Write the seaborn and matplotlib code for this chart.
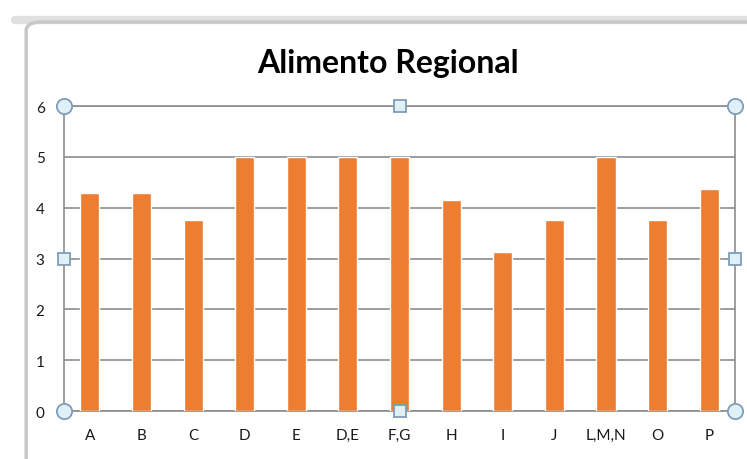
import matplotlib
matplotlib.use("Agg")
import matplotlib.pyplot as plt
import pandas as pd
import seaborn as sns
from matplotlib.patches import FancyBboxPatch

categories = ["A", "B", "C", "D", "E", "D,E", "F,G", "H", "I", "J", "L,M,N", "O", "P"]
values = [4.28, 4.28, 3.75, 5, 5, 5, 5, 4.15, 3.13, 3.75, 5, 3.75, 4.37]
yticks = [0, 1, 2, 3, 4, 5, 6]
title = "Alimento Regional"

df = pd.DataFrame({"cat": categories, "val": values})

sns.set_theme(style="white")
plt.rcParams["font.family"] = ["Lato", "DejaVu Sans"]

fig = plt.figure(figsize=(7.47, 4.60), dpi=100)
fig.patch.set_facecolor("white")

# spreadsheet-like chart frame
frame = FancyBboxPatch((0.035, -0.05), 1.0, 1.0, boxstyle="round,pad=0,rounding_size=0.02",
                       transform=fig.transFigure, facecolor="none", edgecolor="#c8c8c8",
                       linewidth=2.5, zorder=0)
fig.patches.append(frame)
fig.add_artist(plt.Line2D([0.02, 1.0], [0.955, 0.955], color="#e0e0e0", lw=6,
                          transform=fig.transFigure, zorder=-1))

ax = fig.add_axes([0.0857, 0.1043, 0.8983, 0.663])
sns.barplot(data=df, x="cat", y="val", color="#ED7D31", saturation=1, width=0.37,
            ax=ax, zorder=3)

ax.set_ylim(0, 6)
ax.set_yticks(yticks)
ax.set_xlim(-0.5, len(categories) - 0.5)
ax.grid(axis="y", color="#8c8c8c", lw=1.2, zorder=0)
ax.set_axisbelow(True)
for sp in ax.spines.values():
    sp.set_color("#8c8c8c")
    sp.set_linewidth(1.2)
ax.set_xlabel("")
ax.set_ylabel("")
ax.tick_params(axis="both", length=0, labelsize=11, colors="#1a1a1a")
ax.tick_params(axis="x", pad=12)
ax.tick_params(axis="y", pad=14)

# selection handles
hx = [0, 0.5, 1, 0, 1, 0, 0.5, 1]
hy = [0, 0, 0, 0.5, 0.5, 1, 1, 1]
shape = ["o", "s", "o", "s", "s", "o", "s", "o"]
for x, y, m in zip(hx, hy, shape):
    ax.plot(x, y, marker=m, ms=11 if m == "o" else 8, mfc="#dff0f8", mec="#7f9db9",
            mew=1.3, transform=ax.transAxes, clip_on=False, zorder=10)

fig.text(0.52, 0.863, title, ha="center", va="center", fontsize=23, fontweight="bold",
         color="black")

fig.savefig("out.png", dpi=100)
